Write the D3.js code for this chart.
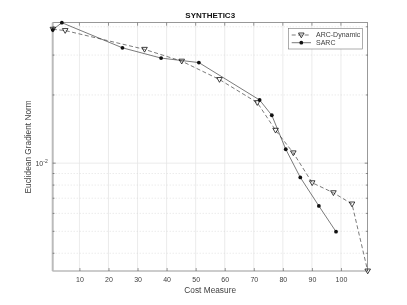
<!DOCTYPE html>
<html lang="en">
<head>
    <meta charset="UTF-8">
    <script type="text/javascript" src="https://d3js.org/d3.v7.min.js"></script>
    <title>SYNTHETIC3</title>
    <style>
        body { margin: 0; background: #fff; }
        svg { will-change: transform; }
    </style>
</head>
<body>
    <svg id="svg"></svg>
    <script>
        const width = 407;
        const height = 305;
        const margin = {"top": 22.7, "bottom": 34, "left": 52.7, "right": 39.3};
        const font = "Liberation Sans, Arial, sans-serif";
        const ink = "#404040";

        // ARC-Dynamic (dashed, open triangles)
        const arcX = [0.86, 5.1, 32.4, 45.2, 58.2, 71.2, 77.5, 83.6, 90.1, 97.4, 103.8, 109.2];
        const arcY = [0.0390, 0.0385, 0.0318, 0.0282, 0.0234, 0.0185, 0.01397, 0.0111, 0.00819, 0.0074, 0.0066, 0.00334];
        // SARC (solid, filled dots)
        const sarcX = [0.8, 3.95, 24.8, 38.1, 51.1, 72.0, 76.2, 81.0, 86.0, 92.4, 98.3];
        const sarcY = [0.0388, 0.0417, 0.0323, 0.0291, 0.0278, 0.0190, 0.01627, 0.01152, 0.00865, 0.00647, 0.00498];

        const xTicks = [10, 20, 30, 40, 50, 60, 70, 80, 90, 100];
        const yMajor = [0.01];
        const yMinor = [0.004, 0.005, 0.006, 0.007, 0.008, 0.009, 0.02, 0.03, 0.04];

        const xscale = d3.scaleLinear()
                         .domain([0.8, 109.2])
                         .range([margin.left, width - margin.right]);
        const yscale = d3.scaleLog()
                         .domain([0.00334, 0.0417])
                         .range([height - margin.bottom, margin.top]);

        const svg = d3.select("#svg").attr("width", width).attr("height", height);
        const x0 = margin.left, x1 = width - margin.right;
        const y0 = height - margin.bottom, y1 = margin.top;

        // grid
        svg.append("g").selectAll("line").data(xTicks).join("line")
            .attr("x1", d => xscale(d)).attr("x2", d => xscale(d))
            .attr("y1", y0).attr("y2", y1)
            .attr("stroke", "#e6e6e6").attr("stroke-width", 0.8);
        svg.append("g").selectAll("line").data(yMinor).join("line")
            .attr("x1", x0).attr("x2", x1)
            .attr("y1", d => yscale(d)).attr("y2", d => yscale(d))
            .attr("stroke", "#d0d0d0").attr("stroke-width", 0.6).attr("stroke-dasharray", "1,2");
        svg.append("g").selectAll("line").data(yMajor).join("line")
            .attr("x1", x0).attr("x2", x1)
            .attr("y1", d => yscale(d)).attr("y2", d => yscale(d))
            .attr("stroke", "#e6e6e6").attr("stroke-width", 0.8);

        // box
        svg.append("rect").attr("x", x0).attr("y", y1).attr("width", x1 - x0).attr("height", y0 - y1)
            .attr("fill", "none").attr("stroke", "#555").attr("stroke-width", 0.6);
        svg.append("line").attr("x1", x0).attr("x2", x0).attr("y1", y1).attr("y2", y0)
            .attr("stroke", "#bbb").attr("stroke-width", 2);

        // x axis ticks (inside)
        const xaxis = d3.axisBottom(xscale).tickValues(xTicks).tickSize(-3).tickPadding(6).tickFormat(d3.format("d"));
        svg.append("g").attr("transform", `translate(0,${y0})`).call(xaxis)
            .call(g => g.select(".domain").remove())
            .call(g => g.selectAll("line").attr("stroke", "#555").attr("stroke-width", 0.6))
            .call(g => g.selectAll("text").attr("font-size", 7).attr("fill", ink).attr("font-family", font));
        svg.append("g").selectAll("line").data(xTicks).join("line")
            .attr("x1", d => xscale(d)).attr("x2", d => xscale(d))
            .attr("y1", y1).attr("y2", y1 + 3)
            .attr("stroke", "#555").attr("stroke-width", 0.6);

        // y ticks
        const yt = yMajor.map(v => ({v: v, len: 3})).concat(yMinor.map(v => ({v: v, len: 1.8})));
        svg.append("g").selectAll("line").data(yt).join("line")
            .attr("x1", x0).attr("x2", d => x0 + d.len)
            .attr("y1", d => yscale(d.v)).attr("y2", d => yscale(d.v))
            .attr("stroke", "#444").attr("stroke-width", 0.6);
        svg.append("g").selectAll("line").data(yt).join("line")
            .attr("x1", x1).attr("x2", d => x1 - d.len)
            .attr("y1", d => yscale(d.v)).attr("y2", d => yscale(d.v))
            .attr("stroke", "#444").attr("stroke-width", 0.6);
        yMajor.forEach(v => {
            const t = svg.append("text").attr("x", x0 - 5).attr("y", yscale(v) + 2.5)
                .attr("text-anchor", "end").attr("font-size", 7)
                .attr("fill", ink).attr("font-family", font);
            t.append("tspan").text("10");
            t.append("tspan").attr("dy", -3).attr("font-size", 5).text("-2");
        });

        // series
        const line = d3.line().x(d => xscale(d[0])).y(d => yscale(d[1]));
        const arcData = arcX.map((x, i) => [x, arcY[i]]);
        const sarcData = sarcX.map((x, i) => [x, sarcY[i]]);

        svg.append("path").attr("d", line(arcData)).attr("fill", "none")
            .attr("stroke", "#222").attr("stroke-width", 0.6).attr("stroke-dasharray", "4,2.5");
        svg.append("path").attr("d", line(sarcData)).attr("fill", "none")
            .attr("stroke", "#222").attr("stroke-width", 0.6);

        const tri = "M-2.8,-2 L2.8,-2 L0,2.8 Z";
        svg.append("g").selectAll("path").data(arcData).join("path")
            .attr("transform", d => `translate(${xscale(d[0])},${yscale(d[1])})`)
            .attr("d", tri).attr("fill", "none").attr("stroke", "#111").attr("stroke-width", 0.8);
        svg.append("g").selectAll("circle").data(sarcData).join("circle")
            .attr("cx", d => xscale(d[0])).attr("cy", d => yscale(d[1]))
            .attr("r", 1.9).attr("fill", "#111");

        // legend
        const lg = svg.append("g").attr("transform", "translate(288.3,28.3)");
        lg.append("rect").attr("width", 74.4).attr("height", 20.7)
            .attr("fill", "#fff").attr("stroke", "#777").attr("stroke-width", 0.6);
        lg.append("line").attr("x1", 3.4).attr("x2", 22.7).attr("y1", 6.7).attr("y2", 6.7)
            .attr("stroke", "#222").attr("stroke-width", 0.6).attr("stroke-dasharray", "4,2.5");
        lg.append("path").attr("transform", "translate(13,6.7)").attr("d", tri)
            .attr("fill", "none").attr("stroke", "#111").attr("stroke-width", 0.8);
        lg.append("text").attr("x", 27.7).attr("y", 9.2).attr("font-size", 7)
            .attr("fill", ink).attr("font-family", font).text("ARC-Dynamic");
        lg.append("line").attr("x1", 3.4).attr("x2", 22.7).attr("y1", 14.4).attr("y2", 14.4)
            .attr("stroke", "#222").attr("stroke-width", 0.6);
        lg.append("circle").attr("cx", 13).attr("cy", 14.4).attr("r", 1.9).attr("fill", "#111");
        lg.append("text").attr("x", 27.7).attr("y", 16.9).attr("font-size", 7)
            .attr("fill", ink).attr("font-family", font).text("SARC");

        // labels
        svg.append("text").attr("x", (x0 + x1) / 2).attr("y", 18).attr("text-anchor", "middle")
            .attr("font-size", 8).attr("font-weight", "bold").attr("fill", "#111")
            .attr("font-family", font).text("SYNTHETIC3");
        svg.append("text").attr("x", (x0 + x1) / 2).attr("y", 293).attr("text-anchor", "middle")
            .attr("font-size", 8.3).attr("fill", ink).attr("font-family", font).text("Cost Measure");
        svg.append("text").attr("transform", `translate(31,${(y0 + y1) / 2}) rotate(-90)`)
            .attr("text-anchor", "middle").attr("font-size", 8.3)
            .attr("fill", ink).attr("font-family", font).text("Euclidean Gradient Norm");
    </script>
</body>
</html>
